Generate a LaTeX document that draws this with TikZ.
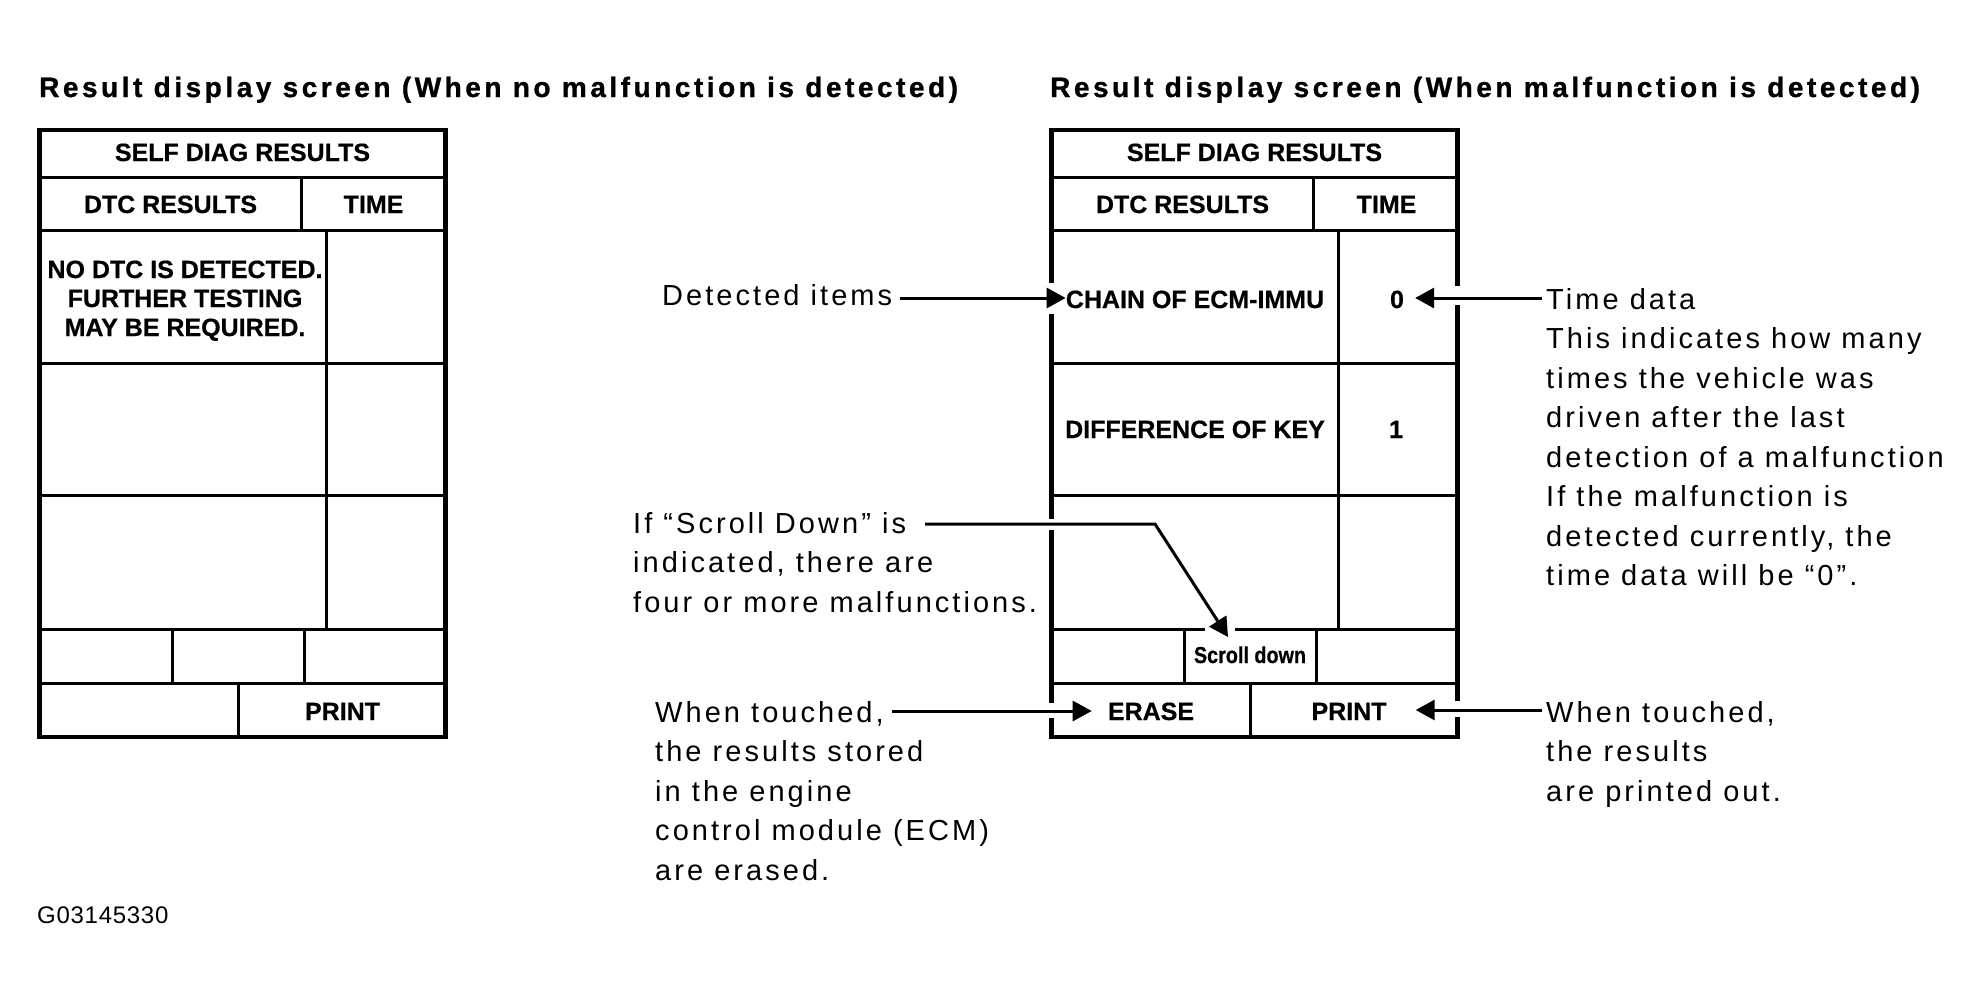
\documentclass[tikz,border=0pt]{standalone}
\usepackage{fontspec}
\setmainfont{Liberation Sans}
\newfontfamily\annfont[LetterSpace=10.5]{Liberation Sans}
\newfontfamily\headfont[LetterSpace=12.6,FakeBold=1]{Liberation Sans Bold}
\newfontfamily\cellfont[FakeBold=0.5]{Liberation Sans Bold}
\newfontfamily\idfont[LetterSpace=3]{Liberation Sans}
\usetikzlibrary{arrows.meta}
\tikzset{
  outerline/.style={line width=4.5pt},
  innerline/.style={line width=3pt},
  celltxt/.style={font=\cellfont\fontsize{25}{29}\selectfont, inner sep=0pt, anchor=base},
  smalltxt/.style={font=\cellfont\fontsize{23}{27}\selectfont, inner sep=0pt, anchor=base},
  anntxt/.style={font=\annfont\fontsize{29}{39.5}\selectfont, inner sep=0pt, anchor=base west},
  headtxt/.style={font=\headfont\fontsize{28}{34}\selectfont, inner sep=0pt, anchor=base west},
  idtxt/.style={font=\idfont\fontsize{24}{28}\selectfont, inner sep=0pt, anchor=base west},
  arr/.style={line width=3pt, -{Triangle[length=19pt,width=20pt]}},
  gapfill/.style={fill=white, draw=none},
}
\newcommand\screengrid{%
  \draw[innerline] (0,177.5) -- (406,177.5)
    (0,230.5) -- (406,230.5)
    (0,363) -- (406,363)
    (0,495) -- (406,495)
    (0,629) -- (406,629)
    (0,683) -- (406,683)
    (262,177.5) -- (262,230.5)
    (287,230.5) -- (287,629)
    (133,629) -- (133,683)
    (265,629) -- (265,683)
    (199,683) -- (199,737);
  \draw[outerline] (0,130) rectangle (406,737);
}
\begin{document}
\begin{tikzpicture}[x=1pt,y=-1pt]
\fill[white] (0,0) rectangle (1975,999);
\useasboundingbox (0,0) rectangle (1975,999);

% headings
\node[headtxt] (hl) at (39,97) {Result display screen (When no malfunction is detected)};
\node[headtxt] (hr) at (1050,97) {Result display screen (When malfunction is detected)};

% left table
\begin{scope}[xshift=39.5pt]
  \screengrid
\end{scope}
\node[celltxt] (lsd) at (242.5,161) {SELF DIAG RESULTS};
\node[celltxt] (ldtc) at (170.5,213) {DTC RESULTS};
\node[celltxt] (ltime) at (373.5,213) {TIME};
\node[celltxt] (lno) at (185,278) {\begin{tabular}[t]{@{}c@{}}NO DTC IS DETECTED.\\FURTHER TESTING\\MAY BE REQUIRED.\end{tabular}};
\node[celltxt] (lprint) at (342.5,720) {PRINT};

% right table
\begin{scope}[xshift=1051.5pt]
  \screengrid
\end{scope}
\node[celltxt] (rsd) at (1254.5,161) {SELF DIAG RESULTS};
\node[celltxt] (rdtc) at (1182.5,213) {DTC RESULTS};
\node[celltxt] (rtime) at (1386.5,213) {TIME};
\node[celltxt] (chain) at (1195,308) {CHAIN OF ECM-IMMU};
\node[celltxt] (zero) at (1397,308) {0};
\node[celltxt] (diff) at (1195,438) {DIFFERENCE OF KEY};
\node[celltxt] (one) at (1396,438) {1};
\node[smalltxt] (scroll) at (1250,663) {\scalebox{0.86}[1]{Scroll down}};
\node[celltxt] (erase) at (1151,720) {ERASE};
\node[celltxt] (rprint) at (1349,720) {PRINT};

% annotations
\node[anntxt] (det) at (662,305) {Detected items};
\node[anntxt] (scr) at (633,533) {\begin{tabular}[t]{@{}l@{}}If “Scroll Down” is\\indicated, there are\\four or more malfunctions.\end{tabular}};
\node[anntxt] (ers) at (655,722) {\begin{tabular}[t]{@{}l@{}}When touched,\\the results stored\\in the engine\\control module (ECM)\\are erased.\end{tabular}};
\node[anntxt] (td) at (1546,309) {\begin{tabular}[t]{@{}l@{}}Time data\\This indicates how many\\times the vehicle was\\driven after the last\\detection of a malfunction\\If the malfunction is\\detected currently, the\\time data will be “0”.\end{tabular}};
\node[anntxt] (prt) at (1546,722) {\begin{tabular}[t]{@{}l@{}}When touched,\\the results\\are printed out.\end{tabular}};
\node[idtxt] (gid) at (37,923) {G03145330};

% gaps in the frame where connectors cross
\fill[gapfill] (1047,283) rectangle (1057,314);
\fill[gapfill] (1452,286) rectangle (1462,305);
\fill[gapfill] (1047,519) rectangle (1057,530);
\fill[gapfill] (1047,703) rectangle (1057,718);
\fill[gapfill] (1452,701) rectangle (1462,717);
\fill[gapfill] (1205,626) rectangle (1235,632);

% connectors
\coordinate (detS) at (900,298);
\draw[arr] (detS) -- (detS -| chain.west);
\coordinate (tdS) at (1542,298);
\draw[arr] (tdS) -- ([xshift=11pt]zero.east |- tdS);
\coordinate (scS) at (925,524);
\coordinate (scK) at (1155,524);
\coordinate (scE) at (1228,637);
\draw[arr] (scS) -- (scK) -- (scE);
\coordinate (erS) at (892,711);
\draw[arr] (erS) -- ([xshift=-16pt]erase.west |- erS);
\coordinate (prS) at (1542,710);
\draw[arr] (prS) -- ([xshift=29pt]rprint.east |- prS);
\end{tikzpicture}
\end{document}
